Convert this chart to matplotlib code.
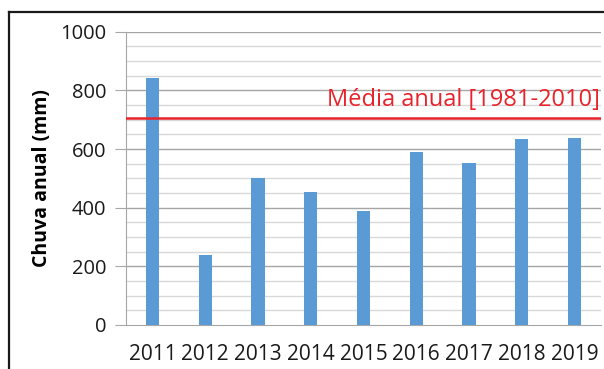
import numpy as np
import matplotlib.pyplot as plt
from matplotlib.lines import Line2D

# data
years = ['2011', '2012', '2013', '2014', '2015', '2016', '2017', '2018', '2019']
chuva = [841, 238, 500, 454, 388, 589, 551, 633, 638]
media = 705   # media anual 1981-2010

W, H = 604, 369
fig = plt.figure(figsize=(W / 100, H / 100), dpi=100)
ax = fig.add_axes([126 / W, 1 - 325 / H, (601 - 126) / W, (325 - 31.7) / H])

x = np.arange(len(years))
ax.bar(x, chuva, width=0.25, color='#5b9bd5', zorder=3)
ax.axhline(media, color='#e8232b', lw=1.8, zorder=4)
ax.text(len(years) - 0.53, media + 22, 'Média anual [1981-2010]', color='#e8232b',
        fontsize=17, family='Open Sans', ha='right', va='bottom', zorder=5)

ax.set_xlim(-0.5, len(years) - 0.5)
ax.set_ylim(0, 1000)

# gridlines: light every 50, darker every 200
for v in range(50, 1001, 50):
    c = '#a6a6a6' if v % 200 == 0 else '#d9d9d9'
    ax.axhline(v, color=c, lw=1, zorder=1)

ax.set_yticks(range(0, 1001, 200))
ax.set_xticks(x)
ax.set_xticklabels(years)
ax.tick_params(axis='y', length=8, color='#a6a6a6', labelsize=14.5, pad=6)
ax.tick_params(axis='x', length=0, labelsize=15, pad=14)
for lab in ax.get_xticklabels() + ax.get_yticklabels():
    lab.set_family('Open Sans')
    lab.set_color('#1a1a1a')

for s in ['top', 'right']:
    ax.spines[s].set_visible(False)
ax.spines['left'].set_color('#a6a6a6')
ax.spines['bottom'].set_color('#a6a6a6')

ax.set_ylabel('Chuva anual (mm)', fontsize=14, fontweight='bold', family='Open Sans', labelpad=6)

# border of the screenshot
fig.add_artist(Line2D([8.5 / W, 8.5 / W], [0, 1 - 12 / H], color='#1a1a1a', lw=1.6, transform=fig.transFigure))
fig.add_artist(Line2D([8.5 / W, 1], [1 - 12 / H, 1 - 12 / H], color='#1a1a1a', lw=1.6, transform=fig.transFigure))

fig.savefig('out.png', dpi=100)
